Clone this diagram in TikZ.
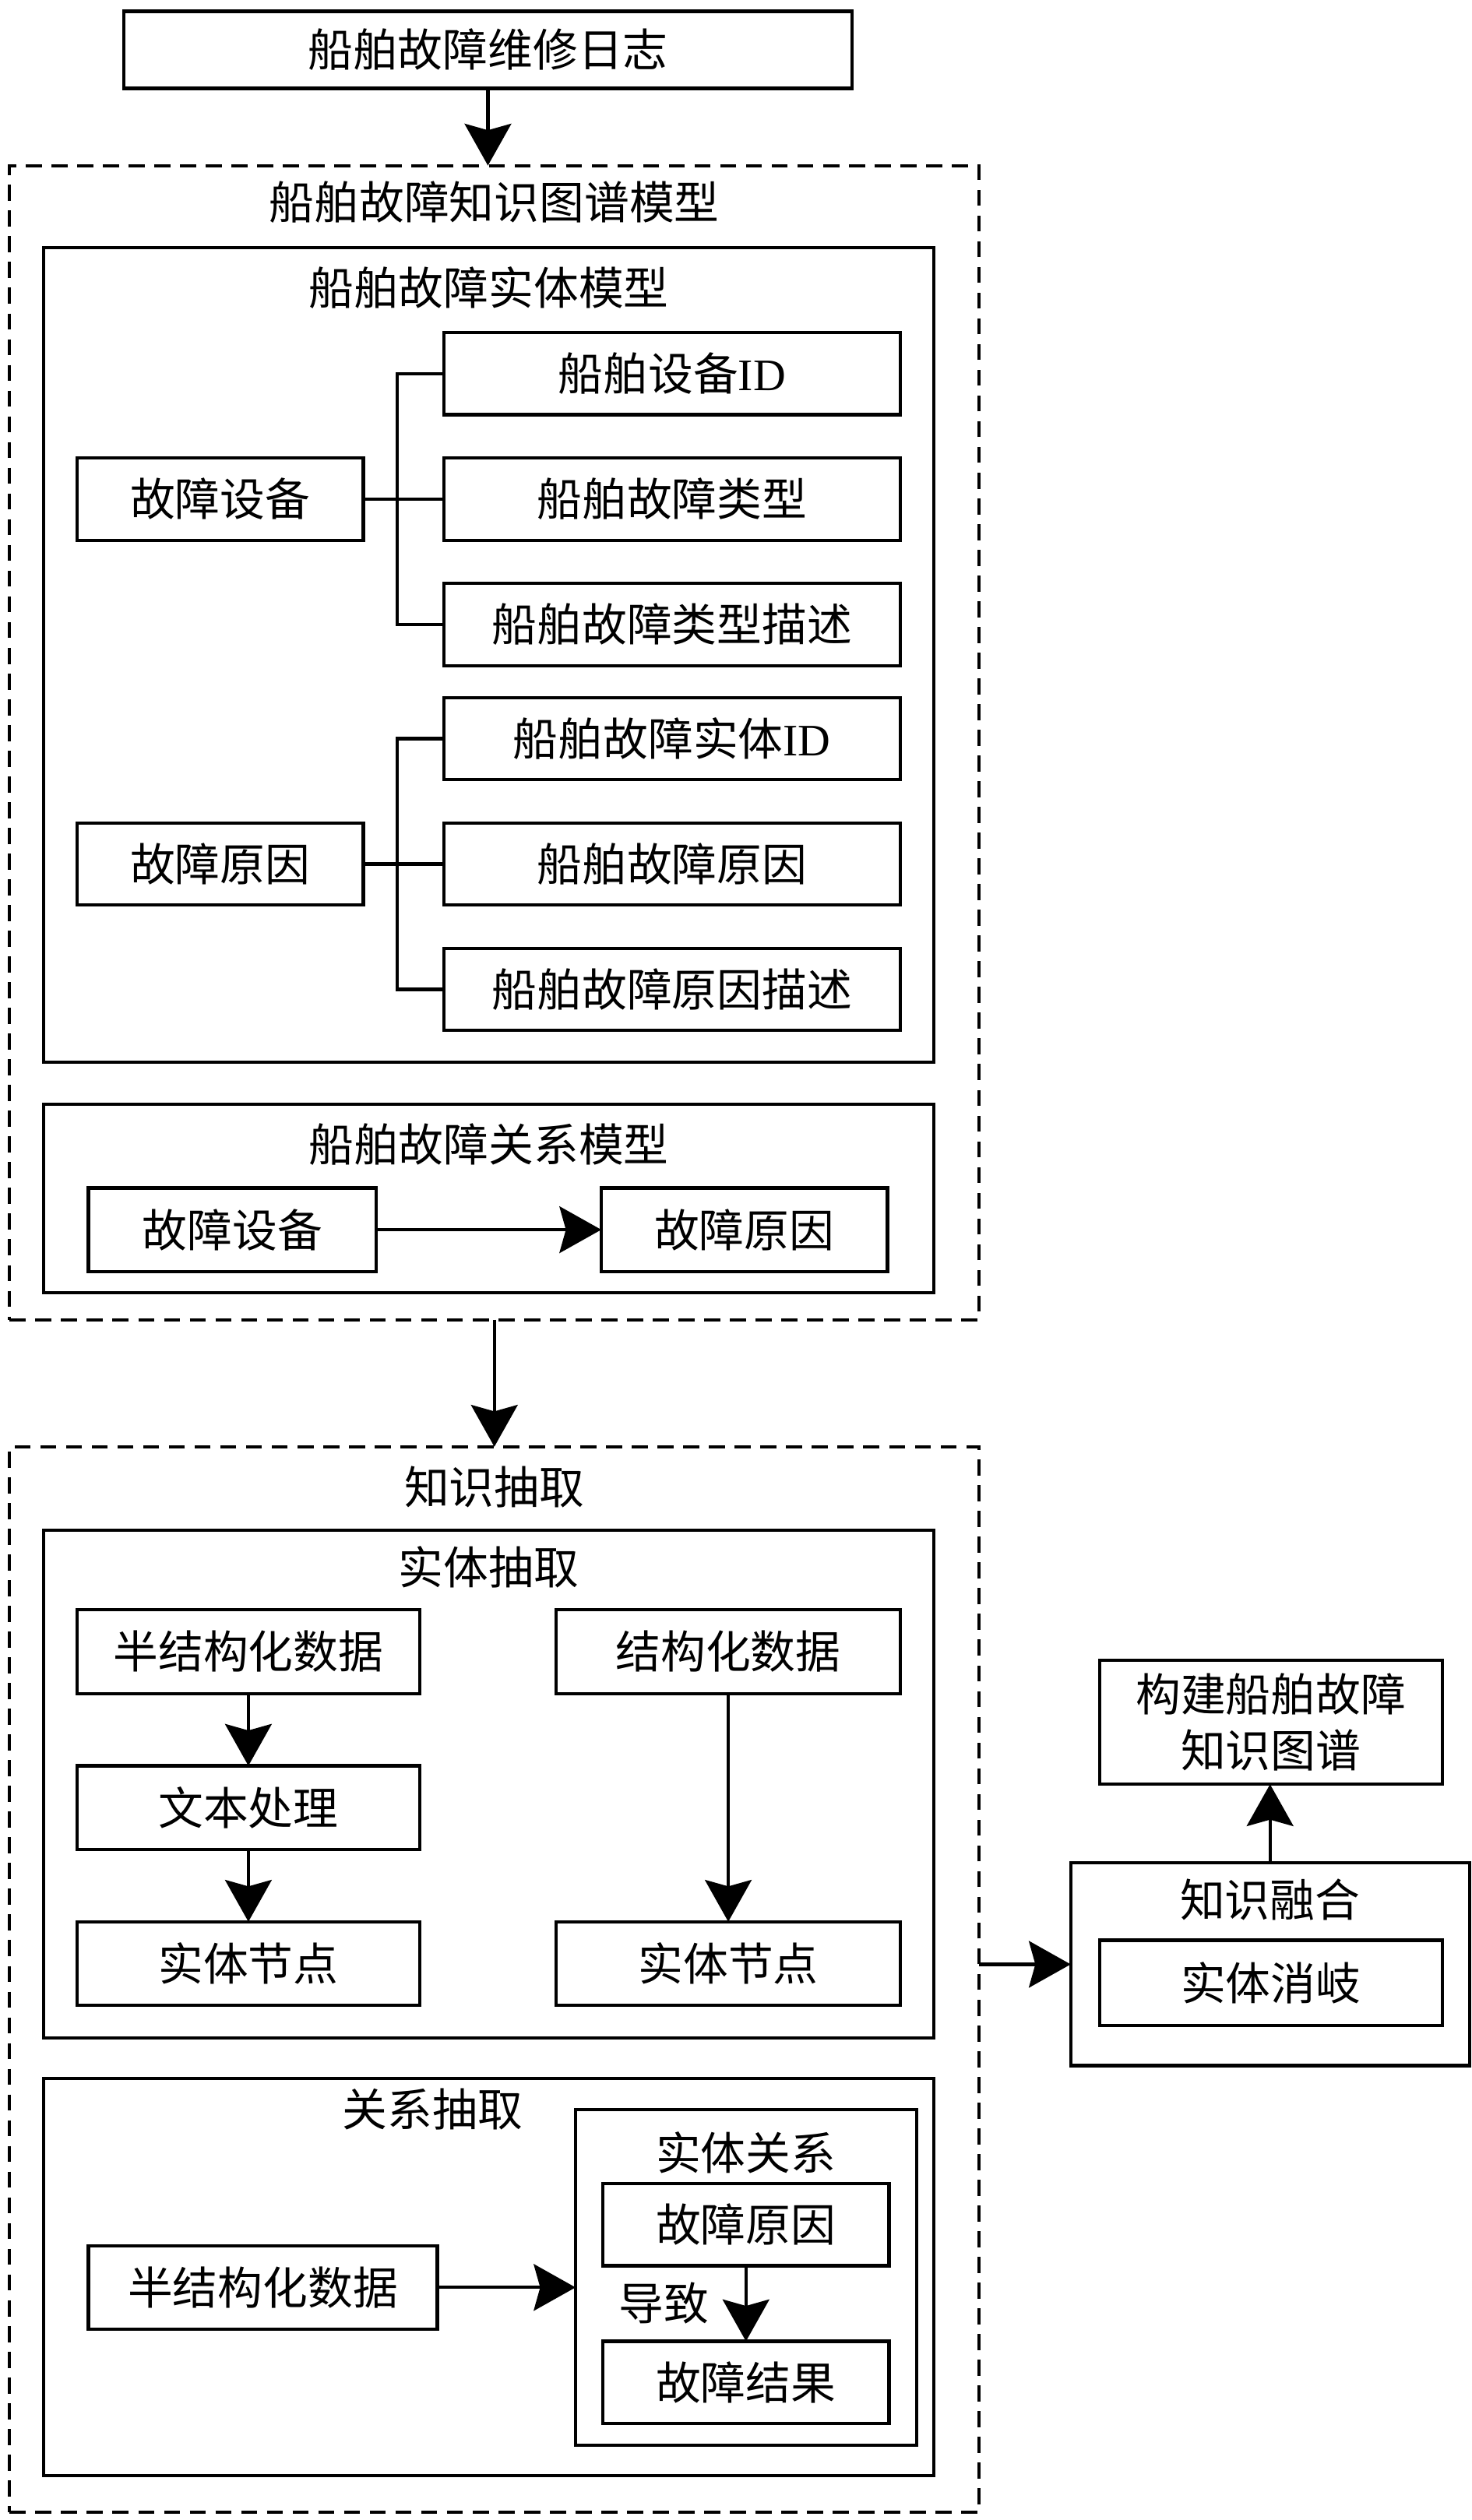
\documentclass[tikz,border=0pt]{standalone}
\usepackage{fontspec}
\setmainfont{Liberation Serif}
\newfontfamily\cjk{Noto Sans CJK SC}
\usetikzlibrary{positioning, arrows.meta, calc}

\tikzset{
    box/.style={draw, line width=2pt, inner sep=0pt, outer sep=0pt, minimum height=51pt, font=\cjk\fontsize{28}{35}\selectfont},
    panel/.style={draw, line width=2pt, inner sep=0pt, outer sep=0pt, anchor=north west},
    dpanel/.style={panel, dash pattern=on 10pt off 6pt},
    heading/.style={inner sep=0pt, font=\cjk\fontsize{28}{35}\selectfont},
    arr/.style={-{Stealth[length=26pt, width=29pt, inset=4pt]}},
}

\begin{document}
\begin{tikzpicture}[x=1pt, y=-1pt, line width=2pt]
    \useasboundingbox (0,0) rectangle (915.6,1567.7);

    \node[box, minimum width=453pt, minimum height=48pt] (log) at (303.5,31) {船舶故障维修日志};

    % knowledge graph model
    \node[dpanel, minimum width=603pt, minimum height=718pt] (kgm) at (6,103) {};
    \node[heading] at ($(kgm.north)+(0,23)$) {船舶故障知识图谱模型};

    \node[panel, minimum width=554pt, minimum height=507pt] (em) at (27,154) {};
    \node[heading] at ($(em.north)+(0,25)$) {船舶故障实体模型};
    \node[box, minimum width=284pt] (a1) at (418,232.5) {船舶设备{\rmfamily ID}};
    \node[box, minimum width=284pt, below=27pt of a1] (a2) {船舶故障类型};
    \node[box, minimum width=284pt, below=27pt of a2] (a3) {船舶故障类型描述};
    \node[box, minimum width=284pt, below=20pt of a3] (b1) {船舶故障实体{\rmfamily ID}};
    \node[box, minimum width=284pt, below=27pt of b1] (b2) {船舶故障原因};
    \node[box, minimum width=284pt, below=27pt of b2] (b3) {船舶故障原因描述};
    \node[box, minimum width=178pt] (dev) at (137,0 |- a2) {故障设备};
    \node[box, minimum width=178pt] (cau) at (137,0 |- b2) {故障原因};
    \draw (a1.west) -- ++(-29,0) |- (a3.west);
    \draw (dev) -- (a2);
    \draw (b1.west) -- ++(-29,0) |- (b3.west);
    \draw (cau) -- (b2);

    \node[panel, minimum width=554pt, minimum height=117pt] (rm) at (27,687) {};
    \node[heading] at ($(rm.north)+(0,25)$) {船舶故障关系模型};
    \node[box, minimum width=179pt, minimum height=52pt] (rdev) at (144.5,765) {故障设备};
    \node[box, minimum width=178pt, minimum height=52pt] (rcau) at (463,765) {故障原因};

    % knowledge extraction
    \node[dpanel, minimum width=603pt, minimum height=663pt] (ke) at (6,900) {};
    \node[heading] at ($(ke.north)+(0,25)$) {知识抽取};

    \node[panel, minimum width=554pt, minimum height=316pt] (ee) at (27,952) {};
    \node[heading] at ($(ee.north)+(0,23)$) {实体抽取};
    \node[box, minimum width=213pt, minimum height=52pt] (semi) at (154.5,1027.5) {半结构化数据};
    \node[box, minimum width=213pt, minimum height=52pt, below=45pt of semi] (proc) {文本处理};
    \node[box, minimum width=213pt, minimum height=52pt, below=45pt of proc] (ent1) {实体节点};
    \node[box, minimum width=214pt, minimum height=52pt] (stru) at (453,1027.5) {结构化数据};
    \node[box, minimum width=214pt, minimum height=52pt] (ent2) at (stru |- ent1) {实体节点};

    \node[panel, minimum width=554pt, minimum height=247pt] (re) at (27,1293) {};
    \node[heading] at (269,1312) {关系抽取};
    \node[box, minimum width=217pt, minimum height=52pt] (rsemi) at (163.5,1423) {半结构化数据};
    \node[panel, minimum width=212pt, minimum height=208.5pt] (er) at (358,1312.5) {};
    \node[heading] at ($(er.north)+(0,26.5)$) {实体关系};
    \node[box, minimum width=178pt] (rcause) at (464,1384) {故障原因};
    \node[box, minimum width=178pt] (reff) at (464,1482) {故障结果};

    % fusion
    \node[box, minimum width=213pt, minimum height=77pt, align=center] (build) at (790.5,1071.5) {构建船舶故障\\知识图谱};
    \node[panel, minimum width=248pt, minimum height=126pt] (fus) at (666,1159) {};
    \node[heading] at ($(fus.north)+(0,23)$) {知识融合};
    \node[box, minimum width=213pt, minimum height=53pt] (dis) at (790.5,1233.5) {实体消岐};

    \draw[arr] (log.south) -- (log.south |- kgm.north);
    \draw[arr] (rdev) -- (rcau);
    \draw[arr] (kgm.south) -- (kgm.south |- ke.north);
    \draw[arr] (semi) -- (proc);
    \draw[arr] (proc) -- (ent1);
    \draw[arr] (stru) -- (ent2);
    \draw[arr] (rsemi) -- (rsemi -| er.west);
    \draw[arr] (rcause) -- node[heading, left=22pt] {导致} (reff);
    \draw[arr] (fus.west -| ke.east) -- (fus.west);
    \draw[arr] (fus.north) -- (fus.north |- build.south);
\end{tikzpicture}
\end{document}
